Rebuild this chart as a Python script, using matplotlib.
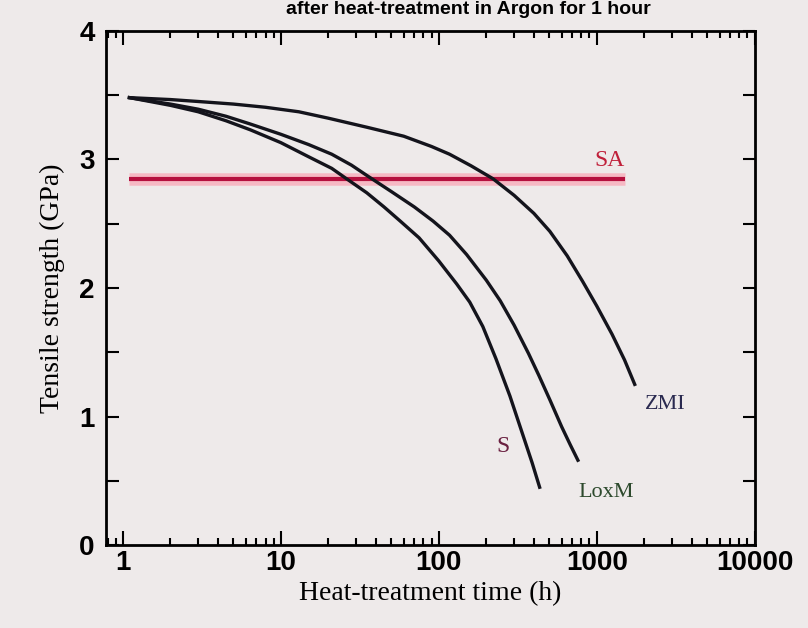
import matplotlib
matplotlib.use("Agg")
import matplotlib.pyplot as plt
from matplotlib.ticker import LogLocator, MultipleLocator, FixedLocator

# curves: heat-treatment time (h) vs tensile strength (GPa)
zmi_t = [1.1, 2, 3, 5, 8, 13, 20, 35, 60, 90, 117, 160, 220, 300, 400, 505, 650, 815, 1000, 1250, 1500, 1740]
zmi_s = [3.48, 3.465, 3.45, 3.43, 3.405, 3.37, 3.32, 3.25, 3.18, 3.10, 3.04, 2.95, 2.85, 2.72, 2.58, 2.44,
         2.25, 2.05, 1.86, 1.64, 1.44, 1.25]

loxm_t = [1.1, 2, 3, 4.5, 6.4, 10, 15, 21, 28, 36, 50, 70, 92, 117, 150, 200, 245, 300, 370, 430,
          505, 600, 680, 760]
loxm_s = [3.48, 3.43, 3.39, 3.335, 3.275, 3.195, 3.115, 3.04, 2.955, 2.865, 2.75, 2.63, 2.52, 2.41, 2.26,
          2.06, 1.90, 1.71, 1.49, 1.32, 1.13, 0.92, 0.78, 0.66]

s_t = [1.1, 2, 3, 4.5, 6.4, 10, 15, 21, 26, 35, 45, 57, 75, 100, 130, 157, 190, 230, 282, 340, 390, 435]
s_s = [3.48, 3.42, 3.37, 3.30, 3.23, 3.13, 3.02, 2.93, 2.85, 2.74, 2.63, 2.52, 2.39, 2.21, 2.03,
       1.89, 1.70, 1.45, 1.16, 0.86, 0.64, 0.45]

sa_t = [1.1, 1500]
sa_s = [2.85, 2.85]

xticks = [1, 10, 100, 1000, 10000]
xticklabels = ["1", "10", "100", "1000", "10000"]
yticks = [0, 1, 2, 3, 4]

bg = "#eeeaea"
fig = plt.figure(figsize=(8.08, 6.28), dpi=100, facecolor=bg)
ax = fig.add_axes([0.131, 0.132, 0.803, 0.819], facecolor=bg)

# SA line with a soft glow like the scanned original
ax.plot(sa_t, sa_s, color="#f6b9c4", lw=9, solid_capstyle="butt", zorder=1)
ax.plot(sa_t, sa_s, color="#b5103e", lw=3, solid_capstyle="butt", zorder=2)

for t, s in [(zmi_t, zmi_s), (loxm_t, loxm_s), (s_t, s_s)]:
    ax.plot(t, s, color="#14141c", lw=2.4, zorder=3)

serif = "Liberation Serif"
ax.text(1200, 2.99, "SA", color="#c0203a", fontsize=17, family=serif, ha="center", va="center")
ax.text(2700, 1.09, "ZMI", color="#2a2a50", fontsize=16, family=serif, ha="center", va="center")
ax.text(254, 0.77, "S", color="#6a2040", fontsize=17, family=serif, ha="center", va="center")
ax.text(1150, 0.41, "LoxM", color="#2d4a2d", fontsize=16, family=serif, ha="center", va="center")

ax.set_xscale("log")
ax.set_xlim(0.78, 10000)
ax.set_ylim(0, 4)
ax.xaxis.set_major_locator(FixedLocator(xticks))
ax.xaxis.set_minor_locator(LogLocator(base=10, subs=range(2, 10)))
ax.set_xticklabels(xticklabels)
ax.yaxis.set_major_locator(FixedLocator(yticks))
ax.yaxis.set_minor_locator(MultipleLocator(0.5))

ax.tick_params(which="both", direction="in", top=True, right=True, width=1.5)
ax.tick_params(axis="x", which="major", length=10)
ax.tick_params(axis="x", which="minor", length=5)
ax.tick_params(axis="y", which="both", length=9)
ax.tick_params(axis="y", which="major", pad=8)
for lab in ax.get_xticklabels() + ax.get_yticklabels():
    lab.set_family("Liberation Sans")
    lab.set_fontweight("bold")
    lab.set_fontsize(20)
for sp in ax.spines.values():
    sp.set_linewidth(2)

ax.set_xlabel("Heat-treatment time (h)", family=serif, fontsize=20, labelpad=4)
ax.set_ylabel("Tensile strength (GPa)", family=serif, fontsize=20, labelpad=10)

# title sits at the very top edge of the original image
fig.text(0.58, 0.985, "after heat-treatment in Argon for 1 hour", ha="center", va="center",
         fontsize=14, fontweight="bold", family="Liberation Sans")

fig.savefig("out.png", dpi=100, facecolor=bg)
